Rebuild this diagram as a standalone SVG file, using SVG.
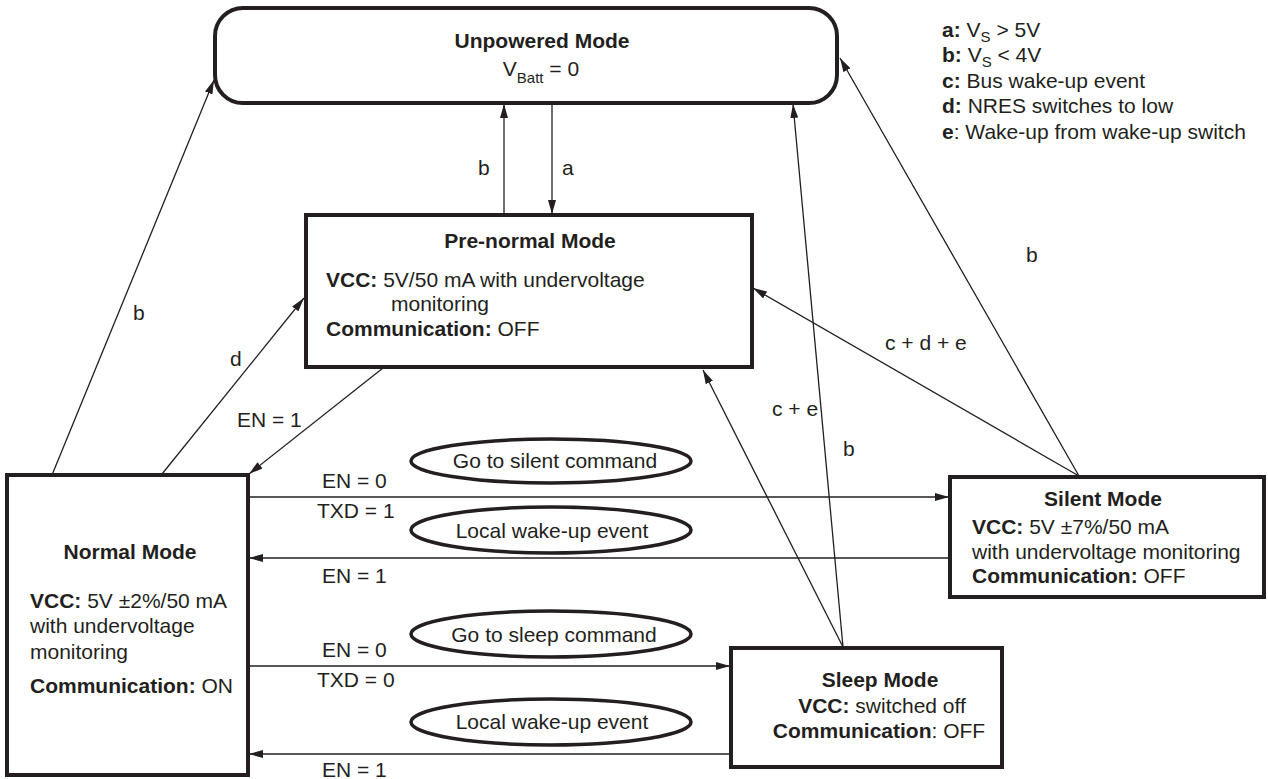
<svg xmlns="http://www.w3.org/2000/svg" width="1268" height="779" viewBox="0 0 1268 779">
<style>
text{font-family:"Liberation Sans",Arial,Helvetica,sans-serif;font-size:21px;fill:#231f20}
.b{font-weight:bold}
.sub{font-size:15px}
.box{fill:#fff;stroke:#231f20;stroke-width:4}
.ell{fill:#fff;stroke:#231f20;stroke-width:3.5}
.c line{stroke:#231f20;stroke-width:1.3;marker-end:url(#ah)}
</style>
<defs>
<marker id="ah" markerUnits="userSpaceOnUse" markerWidth="14" markerHeight="8" refX="14" refY="4" orient="auto">
<path d="M0,0 L14,4 L0,8 z" fill="#231f20"/>
</marker>
</defs>
<rect width="1268" height="779" fill="#fff"/>

<g id="connectors" class="c">
<line x1="52" y1="475" x2="214" y2="80"/>
<line x1="162" y1="474" x2="304" y2="298"/>
<line x1="383" y1="368" x2="249" y2="474"/>
<line x1="504" y1="214" x2="504" y2="104"/>
<line x1="552" y1="104" x2="552" y2="214"/>
<line x1="843" y1="647" x2="793" y2="104"/>
<line x1="1079" y1="476" x2="840" y2="58"/>
<line x1="1079" y1="476" x2="753" y2="288"/>
<line x1="843" y1="647" x2="703" y2="370"/>
<line x1="249" y1="497" x2="949" y2="497"/>
<line x1="949" y1="558" x2="249" y2="558"/>
<line x1="249" y1="666" x2="730" y2="666"/>
<line x1="730" y1="754" x2="249" y2="754"/>
</g>

<g id="connector-labels">
<text x="133" y="320">b</text>
<text x="230" y="366">d</text>
<text x="237" y="427">EN = 1</text>
<text x="478" y="175">b</text>
<text x="562" y="175">a</text>
<text x="843" y="456">b</text>
<text x="1026" y="262">b</text>
<text x="885" y="350">c + d + e</text>
<text x="772" y="416">c + e</text>
<text x="322" y="488">EN = 0</text>
<text x="317" y="518">TXD = 1</text>
<text x="322" y="583">EN = 1</text>
<text x="322" y="657">EN = 0</text>
<text x="317" y="687">TXD = 0</text>
<text x="322" y="777">EN = 1</text>
</g>

<g id="ev-silent">
<ellipse class="ell" cx="551" cy="461" rx="140" ry="22"/>
<text x="555" y="468" text-anchor="middle">Go to silent command</text>
</g>
<g id="ev-wake1">
<ellipse class="ell" cx="551" cy="530" rx="140" ry="23"/>
<text x="552" y="538" text-anchor="middle">Local wake-up event</text>
</g>
<g id="ev-sleep">
<ellipse class="ell" cx="551" cy="634" rx="140" ry="23"/>
<text x="554" y="642" text-anchor="middle">Go to sleep command</text>
</g>
<g id="ev-wake2">
<ellipse class="ell" cx="551" cy="722" rx="140" ry="23"/>
<text x="552" y="729" text-anchor="middle">Local wake-up event</text>
</g>

<g id="unpowered">
<rect class="box" x="215" y="8" width="622" height="95" rx="28" ry="28"/>
<text class="b" x="542" y="48" text-anchor="middle">Unpowered Mode</text>
<text x="541" y="76" text-anchor="middle">V<tspan class="sub" dy="7">Batt</tspan><tspan dy="-7"> = 0</tspan></text>
</g>

<g id="prenormal">
<rect class="box" x="306" y="215" width="446" height="152"/>
<text class="b" x="530" y="248" text-anchor="middle">Pre-normal Mode</text>
<text x="326" y="287"><tspan class="b">VCC:</tspan> 5V/50 mA with undervoltage</text>
<text x="391" y="311">monitoring</text>
<text x="326" y="336"><tspan class="b">Communication:</tspan> OFF</text>
</g>

<g id="normal">
<rect class="box" x="7" y="475" width="241" height="300"/>
<text class="b" x="130" y="559" text-anchor="middle">Normal Mode</text>
<text x="30" y="608"><tspan class="b">VCC:</tspan> 5V ±2%/50 mA</text>
<text x="30" y="633">with undervoltage</text>
<text x="30" y="659">monitoring</text>
<text x="30" y="693"><tspan class="b">Communication:</tspan> ON</text>
</g>

<g id="silent">
<rect class="box" x="950" y="477" width="314" height="120"/>
<text class="b" x="1103" y="506" text-anchor="middle">Silent Mode</text>
<text x="972" y="534"><tspan class="b">VCC:</tspan> 5V ±7%/50 mA</text>
<text x="972" y="559">with undervoltage monitoring</text>
<text x="972" y="583"><tspan class="b">Communication:</tspan> OFF</text>
</g>

<g id="sleep">
<rect class="box" x="731" y="648" width="271" height="119"/>
<text class="b" x="880" y="687" text-anchor="middle">Sleep Mode</text>
<text x="882" y="713" text-anchor="middle"><tspan class="b">VCC:</tspan> switched off</text>
<text x="879" y="738" text-anchor="middle"><tspan class="b">Communication</tspan>: OFF</text>
</g>

<g id="legend">
<text x="942" y="37"><tspan class="b">a:</tspan> V<tspan class="sub" dy="5">S</tspan><tspan dy="-5"> &gt; 5V</tspan></text>
<text x="942" y="62"><tspan class="b">b:</tspan> V<tspan class="sub" dy="5">S</tspan><tspan dy="-5"> &lt; 4V</tspan></text>
<text x="942" y="88"><tspan class="b">c:</tspan> Bus wake-up event</text>
<text x="942" y="113"><tspan class="b">d:</tspan> NRES switches to low</text>
<text x="942" y="139"><tspan class="b">e</tspan>: Wake-up from wake-up switch</text>
</g>
</svg>
